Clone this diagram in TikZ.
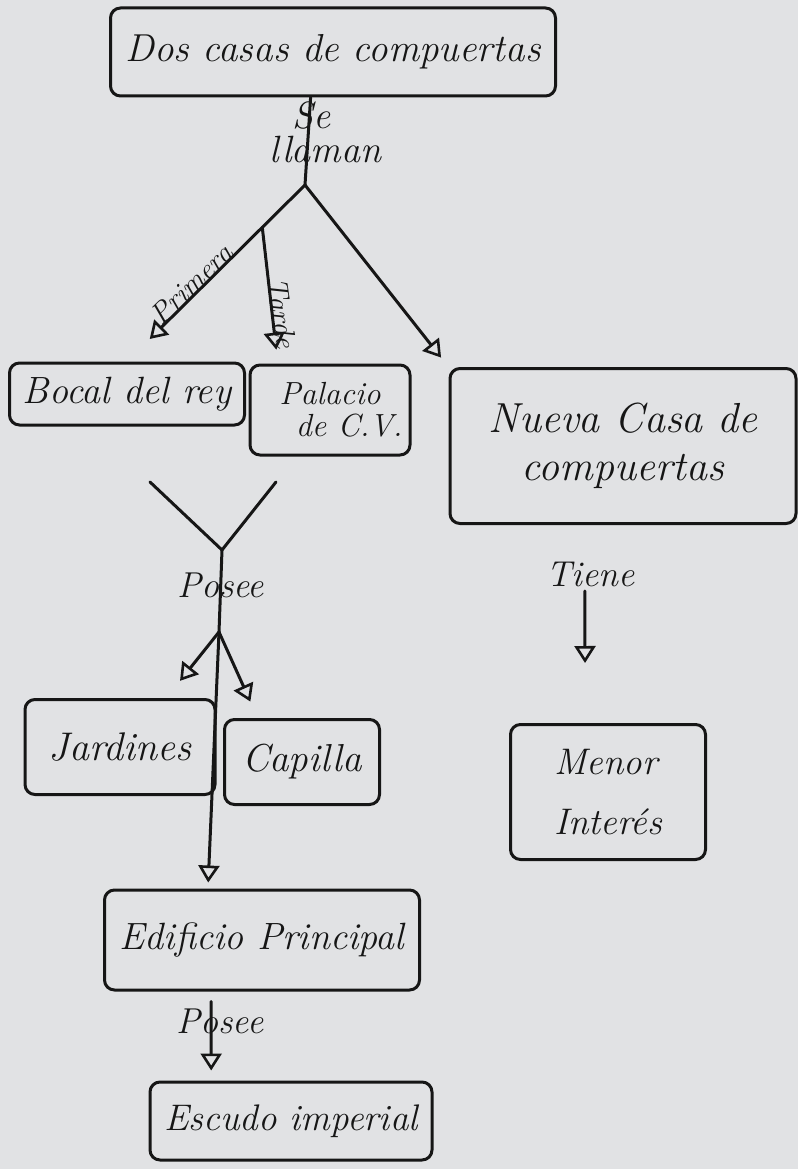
\documentclass[tikz,border=0pt]{standalone}
\usepackage{fontspec}
\usetikzlibrary{arrows.meta,calc}
\definecolor{paper}{HTML}{E1E2E4}
\definecolor{ink}{HTML}{161616}
\newcommand\handfont[2]{\fontsize{#1}{#2}\selectfont\itshape}
\tikzset{
  box/.style={draw=ink, line width=3pt, rounded corners=10pt, inner sep=4pt, align=center, text=ink},
  link/.style={draw=ink, line width=3pt, line cap=round, line join=round},
  arr/.style={link, -{Triangle[open, length=17pt, width=21pt, line width=2.6pt]}},
  lbl/.style={text=ink, inner sep=1pt, align=center, font=\handfont{36}{34}},
}
\begin{document}
\begin{tikzpicture}[x=1pt,y=-1pt]
\fill[paper] (0,0) rectangle (798,1169);
\useasboundingbox (0,0) rectangle (798,1169);

% boxes
\node[box, minimum width=445pt, minimum height=88pt, font=\handfont{39}{40}] (top) at (333,52) {Dos casas de compuertas};
\node[box, minimum width=235pt, minimum height=62pt, font=\handfont{38}{40}] (bocal) at (127,394) {Bocal del rey};
\node[box, minimum width=160pt, minimum height=90pt, font=\handfont{32}{32}] (palacio) at (330,410) {Palacio\\\hspace*{1.2em}de C.V.};
\node[box, minimum width=346pt, minimum height=155pt, font=\handfont{42}{48}] (nueva) at (623,446) {Nueva Casa de\\compuertas};
\node[box, minimum width=190pt, minimum height=95pt, font=\handfont{40}{40}] (jardines) at (120,747) {Jardines};
\node[box, minimum width=155pt, minimum height=85pt, font=\handfont{39}{40}] (capilla) at (302,762) {Capilla};
\node[box, minimum width=195pt, minimum height=135pt, font=\handfont{37}{60}, align=left] (menor) at (608,792) {Menor\\Interés};
\node[box, minimum width=315pt, minimum height=100pt, font=\handfont{38}{40}] (edificio) at (262,940) {Edificio Principal};
\node[box, minimum width=282pt, minimum height=78pt, font=\handfont{37}{40}] (escudo) at (291,1121) {Escudo imperial};

% junctions
\coordinate (j1) at (305,185);
\coordinate (m0) at ($(j1)!0.24!(bocal.north)$);
\coordinate (b1) at (150,482);
\coordinate (p1) at (276,482);
\coordinate (j2) at (222,550);
\coordinate (j3) at (219,632);

% connectors
\draw[link] ($(top.south west)!0.45!(top.south east)$) -- node[lbl, pos=0.4, xshift=17pt, align=left, font=\handfont{38}{34}] (l1) {\hspace*{0.6em}Se\\llaman} (j1);
\draw[arr, shorten >=32pt] (j1) -- node[lbl, pos=0.6, anchor=base, rotate=44, font=\handfont{29}{30}] (l2) {Primera} (bocal.north);
\draw[arr, shorten >=14pt] (m0) -- node[lbl, pos=0.64, anchor=base, rotate=-82, font=\handfont{29}{30}] (l3) {Tarde} ($(palacio.north west)!0.18!(palacio.north east)$);
\draw[arr, shorten >=12pt] (j1) -- (nueva.north west);

\draw[link] (b1) -- (j2) -- (p1);
\draw[link] (j2) -- node[lbl, pos=0.43] (l4) {Posee} (j3);
\draw[arr, shorten >=22pt] (j3) -- ($(jardines.north west)!0.74!(jardines.north east)$);
\draw[arr, shorten >=18pt] (j3) -- ($(capilla.north west)!0.22!(capilla.north east)$);
\draw[arr, shorten >=6pt] (j3) -- ($(edificio.north west)!0.33!(edificio.north east)$);

\draw[arr, shorten <=66pt, shorten >=60pt] ($(nueva.south west)!0.39!(nueva.south east)$) -- node[lbl, pos=0.25, xshift=6pt] (l5) {Tiene} ($(menor.north west)!0.385!(menor.north east)$);
\draw[arr, shorten <=10pt, shorten >=10pt] ($(edificio.south west)!0.34!(edificio.south east)$) -- node[lbl, pos=0.34, xshift=9pt] (l6) {Posee} ($(escudo.north west)!0.22!(escudo.north east)$);
\end{tikzpicture}
\end{document}
